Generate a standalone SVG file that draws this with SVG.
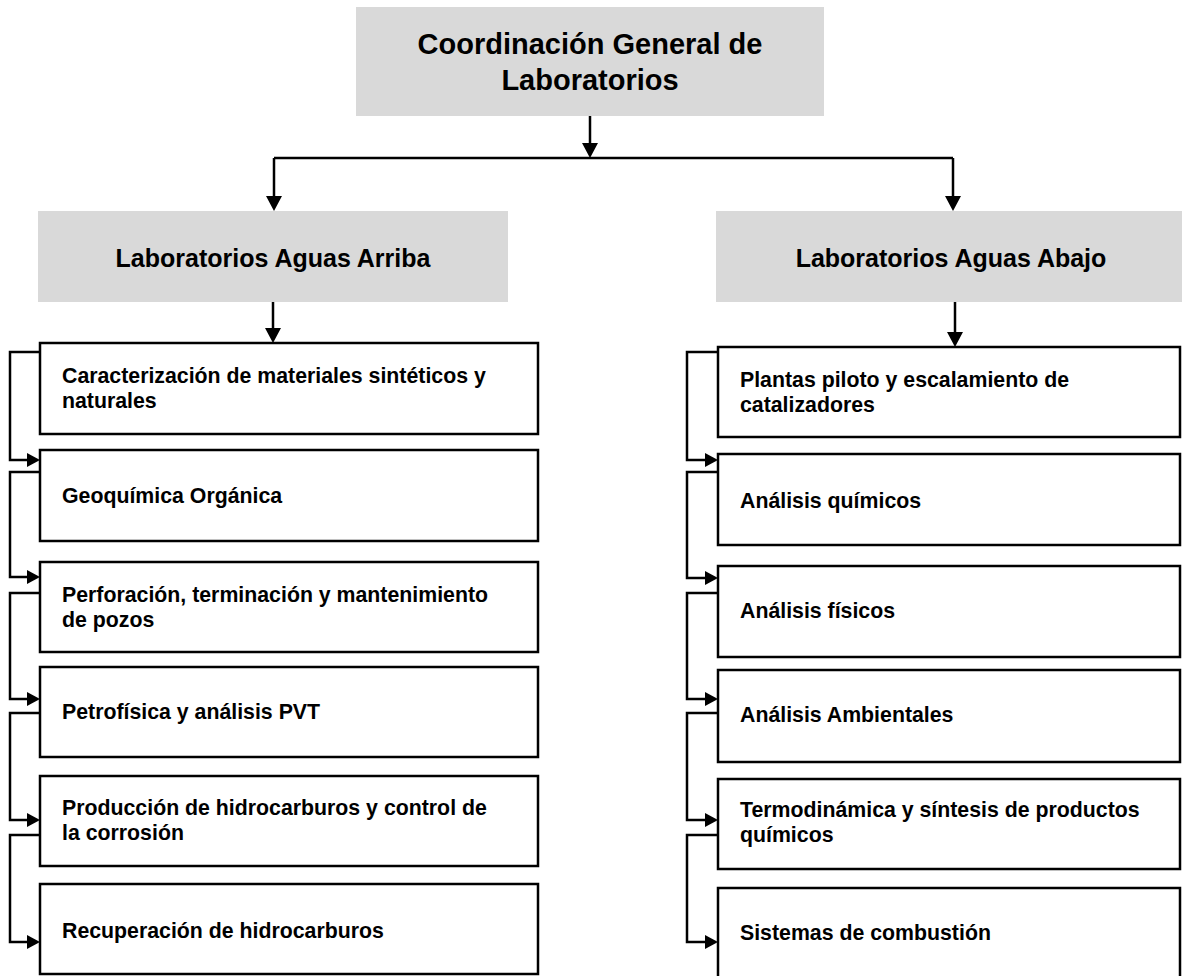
<svg xmlns="http://www.w3.org/2000/svg" width="1182" height="976" viewBox="0 0 1182 976">
<style>
.hd{fill:#d9d9d9;stroke:none}
.bx{fill:#fff;stroke:#000;stroke-width:2.5}
.t{font-family:"Liberation Sans",Arial,sans-serif;font-weight:bold;fill:#000}
.t1{font-size:29px}
.t2{font-size:25px}
.t3{font-size:21.3px}
.c{fill:none;stroke:#000;stroke-width:2.5}
.cd{marker-end:url(#ad)}
.cs{marker-end:url(#as)}
</style>
<defs>
<marker id="ad" viewBox="0 0 15 16" refX="11" refY="8" markerWidth="15" markerHeight="16" markerUnits="userSpaceOnUse" orient="auto"><path d="M0,0 L15,8 L0,16 z" fill="#000"/></marker>
<marker id="as" viewBox="0 0 13 14" refX="9" refY="7" markerWidth="13" markerHeight="14" markerUnits="userSpaceOnUse" orient="auto"><path d="M0,0 L13,7 L0,14 z" fill="#000"/></marker>
</defs>
<g id="connectors">
<path class="c cd" d="M590,116 V154"/>
<path class="c" d="M274,158 H953"/>
<path class="c cd" d="M274,158 V207"/>
<path class="c cd" d="M953,158 V207"/>
<path class="c cd" d="M273,302 V339"/>
<path class="c cd" d="M955,302 V343"/>
<path class="c cs" d="M40,352 H10 V460 H36"/>
<path class="c cs" d="M40,472 H10 V577 H36"/>
<path class="c cs" d="M40,593 H10 V699 H36"/>
<path class="c cs" d="M40,713 H10 V820 H36"/>
<path class="c cs" d="M40,835 H10 V942 H36"/>
<path class="c cs" d="M718,352 H687 V460 H714"/>
<path class="c cs" d="M718,472 H687 V578 H714"/>
<path class="c cs" d="M718,593 H687 V699 H714"/>
<path class="c cs" d="M718,713 H687 V820 H714"/>
<path class="c cs" d="M718,835 H687 V942 H714"/>
</g>
<g id="n-top"><rect class="hd" x="356" y="7" width="468" height="109"/>
<text class="t t1" x="590" y="54" text-anchor="middle">Coordinación General de</text>
<text class="t t1" x="590" y="90" text-anchor="middle">Laboratorios</text></g>
<g id="n-arriba"><rect class="hd" x="38" y="211" width="470" height="91"/>
<text class="t t2" x="273" y="267" text-anchor="middle">Laboratorios Aguas Arriba</text></g>
<g id="n-abajo"><rect class="hd" x="716" y="211" width="466" height="91"/>
<text class="t t2" x="951" y="267" text-anchor="middle">Laboratorios Aguas Abajo</text></g>
<g id="n-l1"><rect class="bx" x="40" y="343" width="498" height="91"/>
<text class="t t3" x="62" y="383">Caracterización de materiales sintéticos y</text>
<text class="t t3" x="62" y="408">naturales</text></g>
<g id="n-l2"><rect class="bx" x="40" y="450" width="498" height="91"/>
<text class="t t3" x="62" y="503">Geoquímica Orgánica</text></g>
<g id="n-l3"><rect class="bx" x="40" y="562" width="498" height="90"/>
<text class="t t3" x="62" y="602">Perforación, terminación y mantenimiento</text>
<text class="t t3" x="62" y="627">de pozos</text></g>
<g id="n-l4"><rect class="bx" x="40" y="667" width="498" height="90"/>
<text class="t t3" x="62" y="719">Petrofísica y análisis PVT</text></g>
<g id="n-l5"><rect class="bx" x="40" y="776" width="498" height="90"/>
<text class="t t3" x="62" y="815">Producción de hidrocarburos y control de</text>
<text class="t t3" x="62" y="840">la corrosión</text></g>
<g id="n-l6"><rect class="bx" x="40" y="884" width="498" height="90"/>
<text class="t t3" x="62" y="938">Recuperación de hidrocarburos</text></g>
<g id="n-r1"><rect class="bx" x="718" y="347" width="462" height="90"/>
<text class="t t3" x="740" y="387">Plantas piloto y escalamiento de</text>
<text class="t t3" x="740" y="412">catalizadores</text></g>
<g id="n-r2"><rect class="bx" x="718" y="454" width="462" height="91"/>
<text class="t t3" x="740" y="508">Análisis químicos</text></g>
<g id="n-r3"><rect class="bx" x="718" y="566" width="462" height="91"/>
<text class="t t3" x="740" y="618">Análisis físicos</text></g>
<g id="n-r4"><rect class="bx" x="718" y="670" width="462" height="92"/>
<text class="t t3" x="740" y="722">Análisis Ambientales</text></g>
<g id="n-r5"><rect class="bx" x="718" y="779" width="462" height="90"/>
<text class="t t3" x="740" y="817">Termodinámica y síntesis de productos</text>
<text class="t t3" x="740" y="842">químicos</text></g>
<g id="n-r6"><rect class="bx" x="718" y="888" width="462" height="92"/>
<text class="t t3" x="740" y="940">Sistemas de combustión</text></g>
</svg>
